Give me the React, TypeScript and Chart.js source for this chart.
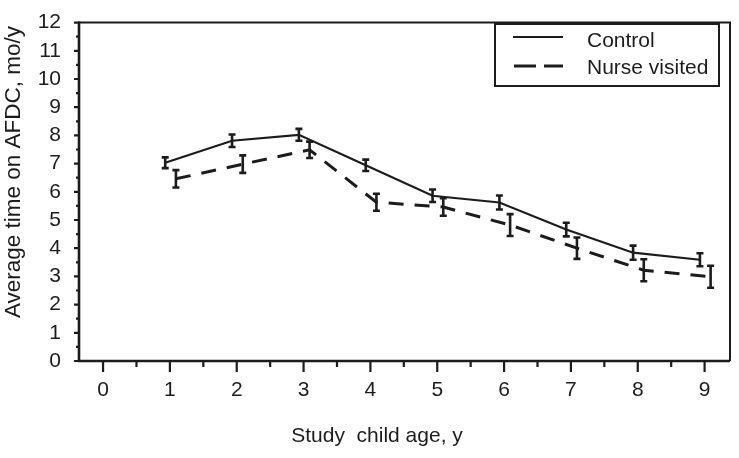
import React, { useEffect, useRef } from "react";
import { Chart, registerables } from "chart.js";

Chart.register(...registerables);

// ---- data ----
const ages = [1, 2, 3, 4, 5, 6, 7, 8, 9];
const controlMeans = [7.03, 7.81, 8.02, 6.94, 5.86, 5.62, 4.66, 3.84, 3.59];
const controlErr = [0.19, 0.22, 0.21, 0.2, 0.22, 0.25, 0.24, 0.25, 0.23];
const nurseMeans = [6.46, 6.98, 7.49, 5.63, 5.46, 4.82, 4.0, 3.22, 2.99];
const nurseErr = [0.31, 0.31, 0.29, 0.3, 0.31, 0.39, 0.38, 0.39, 0.39];
const xTickValues = [0, 1, 2, 3, 4, 5, 6, 7, 8, 9];
const yTickValues = [0, 1, 2, 3, 4, 5, 6, 7, 8, 9, 10, 11, 12];
const seriesLabels = ["Control", "Nurse visited"];
const xTitle = "Study  child age, y";
const yTitle = "Average time on AFDC, mo/y";
const controlDodge = -0.07;
const nurseDodge = 0.09;

const INK = "#1c1c1c";
const FONT = "'Liberation Sans', Arial, Helvetica, sans-serif";

const decorPlugin = {
  id: "decor",
  afterDatasetsDraw(chart: any) {
    const ctx = chart.ctx;
    const errs = [controlErr, nurseErr];
    ctx.save();
    ctx.strokeStyle = INK;
    ctx.lineWidth = 2.6;
    ctx.setLineDash([]);
    chart.data.datasets.forEach((ds: any, di: number) => {
      const meta = chart.getDatasetMeta(di);
      const ys = chart.scales.y;
      meta.data.forEach((pt: any, i: number) => {
        const v = ds.data[i].y;
        const e = errs[di][i];
        const x = pt.x;
        const yTop = ys.getPixelForValue(v + e);
        const yBot = ys.getPixelForValue(v - e);
        ctx.beginPath();
        ctx.moveTo(x, yTop);
        ctx.lineTo(x, yBot);
        ctx.moveTo(x - 3.5, yTop);
        ctx.lineTo(x + 3.5, yTop);
        ctx.moveTo(x - 3.5, yBot);
        ctx.lineTo(x + 3.5, yBot);
        ctx.stroke();
      });
    });
    ctx.restore();
  },
  afterDraw(chart: any) {
    const ctx = chart.ctx;
    const a = chart.chartArea;
    const xs = chart.scales.x;
    const ys = chart.scales.y;
    ctx.save();
    ctx.strokeStyle = INK;
    ctx.setLineDash([]);
    // frame top/right
    ctx.lineWidth = 2;
    ctx.beginPath();
    ctx.moveTo(a.left, a.top);
    ctx.lineTo(a.right, a.top);
    ctx.lineTo(a.right, a.bottom);
    ctx.stroke();
    // axes left/bottom
    ctx.lineWidth = 2.6;
    ctx.beginPath();
    ctx.moveTo(a.left, a.top - 1);
    ctx.lineTo(a.left, a.bottom);
    ctx.lineTo(a.right, a.bottom);
    ctx.stroke();
    // x ticks
    ctx.lineWidth = 2.2;
    ctx.beginPath();
    xTickValues.forEach((v) => {
      const px = xs.getPixelForValue(v);
      ctx.moveTo(px, a.bottom);
      ctx.lineTo(px, a.bottom + 11);
      if (v < xTickValues[xTickValues.length - 1]) {
        const pm = xs.getPixelForValue(v + 0.5);
        ctx.moveTo(pm, a.bottom);
        ctx.lineTo(pm, a.bottom + 6);
      }
    });
    // y ticks
    yTickValues.forEach((v) => {
      const py = ys.getPixelForValue(v);
      ctx.moveTo(a.left, py);
      ctx.lineTo(a.left - 5, py);
      if (v < yTickValues[yTickValues.length - 1]) {
        const pm = ys.getPixelForValue(v + 0.5);
        ctx.moveTo(a.left, pm);
        ctx.lineTo(a.left - 3, pm);
      }
    });
    ctx.stroke();

    // titles
    ctx.fillStyle = INK;
    ctx.font = `21px ${FONT}`;
    ctx.textAlign = "center";
    ctx.textBaseline = "middle";
    ctx.fillText(xTitle, 377, 436);
    ctx.save();
    ctx.translate(14, 172);
    ctx.rotate(-Math.PI / 2);
    ctx.font = `22.5px ${FONT}`;
    ctx.fillText(yTitle, 0, 0);
    ctx.restore();

    // legend
    const lx = 495, ly = 24, lw = 224, lh = 62;
    ctx.lineWidth = 2;
    ctx.strokeRect(lx, ly, lw, lh);
    ctx.lineWidth = 2;
    ctx.beginPath();
    ctx.moveTo(lx + 18, ly + 13);
    ctx.lineTo(lx + 68, ly + 13);
    ctx.stroke();
    ctx.lineWidth = 3;
    ctx.setLineDash([22, 8]);
    ctx.beginPath();
    ctx.moveTo(lx + 19, ly + 42);
    ctx.lineTo(lx + 68, ly + 42);
    ctx.stroke();
    ctx.setLineDash([]);
    ctx.font = `21px ${FONT}`;
    ctx.textAlign = "left";
    ctx.textBaseline = "middle";
    ctx.fillText(seriesLabels[0], lx + 92, ly + 17);
    ctx.fillText(seriesLabels[1], lx + 92, ly + 44);
    ctx.restore();
  },
};

export default function App() {
  const ref = useRef<HTMLCanvasElement | null>(null);
  useEffect(() => {
    document.body.style.margin = "0";
    const canvas = ref.current;
    if (!canvas) return;
    const chart = new Chart(canvas, {
      type: "line",
      data: {
        datasets: [
          {
            label: seriesLabels[0],
            data: ages.map((a, i) => ({ x: a + controlDodge, y: controlMeans[i] })),
            borderColor: INK,
            borderWidth: 2.2,
            pointRadius: 0,
            tension: 0,
            fill: false,
          },
          {
            label: seriesLabels[1],
            data: ages.map((a, i) => ({ x: a + nurseDodge, y: nurseMeans[i] })),
            borderColor: INK,
            borderWidth: 3,
            borderDash: [15, 11],
            pointRadius: 0,
            tension: 0,
            fill: false,
          },
        ],
      },
      options: {
        animation: false,
        responsive: true,
        maintainAspectRatio: false,
        layout: { padding: { top: 12, right: 9, left: 0, bottom: 0 } },
        plugins: { legend: { display: false }, tooltip: { enabled: false } },
        scales: {
          x: {
            type: "linear",
            min: -0.36,
            max: 9.38,
            afterBuildTicks: (s: any) => {
              s.ticks = xTickValues.map((v) => ({ value: v }));
            },
            afterFit: (s: any) => {
              s.height = 97;
            },
            grid: { display: false },
            border: { display: false },
            ticks: {
              color: INK,
              font: { family: FONT, size: 21 },
              padding: 9,
              maxRotation: 0,
              autoSkip: false,
            },
          },
          y: {
            type: "linear",
            min: 0,
            max: 12,
            afterBuildTicks: (s: any) => {
              s.ticks = yTickValues.map((v) => ({ value: v }));
            },
            afterFit: (s: any) => {
              s.width = 79;
            },
            grid: { display: false },
            border: { display: false },
            ticks: {
              color: INK,
              font: { family: FONT, size: 21 },
              padding: 10,
              autoSkip: false,
            },
          },
        },
      },
      plugins: [decorPlugin],
    });
    return () => chart.destroy();
  }, []);
  return (
    <div style={{ position: "relative", width: 739, height: 458 }}>
      <canvas ref={ref} />
    </div>
  );
}
